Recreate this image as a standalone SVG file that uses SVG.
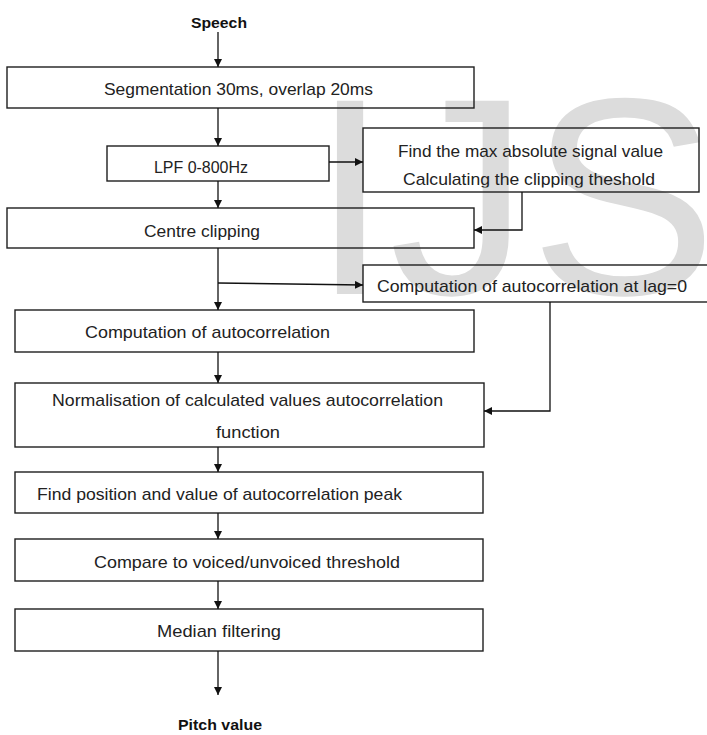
<svg xmlns="http://www.w3.org/2000/svg" width="707" height="735" viewBox="0 0 707 735">
<style>
.box{fill:none;stroke:#1e1e1e;stroke-width:1.4}
.t{font-family:"Liberation Sans",Arial,sans-serif;font-size:17px;fill:#222}
.b{font-family:"Liberation Sans",Arial,sans-serif;font-size:15.5px;font-weight:bold;fill:#111}
.c{fill:none;stroke:#111;stroke-width:1.3}
.wm{font-family:"Liberation Sans",Arial,sans-serif;font-size:281px;fill:#dcdcdc}
</style>
<defs>
<marker id="ah" markerUnits="userSpaceOnUse" markerWidth="9" markerHeight="9" refX="8" refY="4" orient="auto">
<path d="M0,0 L8,4 L0,8 z" fill="#111"/>
</marker>
<clipPath id="clipCalc"><rect x="363" y="128" width="336" height="59.5"/></clipPath>
</defs>
<rect width="707" height="735" fill="#fff"/>
<text class="wm" x="311" y="294">IJS</text>

<g id="speech"><text class="b" x="191" y="28" textLength="56" lengthAdjust="spacingAndGlyphs">Speech</text></g>
<g id="segmentation"><rect class="box" x="7" y="67" width="467" height="41"/><text class="t" x="104" y="95" textLength="269" lengthAdjust="spacingAndGlyphs">Segmentation 30ms, overlap 20ms</text></g>
<g id="lpf"><rect class="box" x="107" y="146" width="222" height="35"/><text class="t" x="154" y="173" textLength="94" lengthAdjust="spacingAndGlyphs">LPF 0-800Hz</text></g>
<g id="findmax"><rect class="box" x="363" y="128" width="336" height="64"/><text class="t" x="398" y="157" textLength="265" lengthAdjust="spacingAndGlyphs">Find the max absolute signal value</text><text class="t" x="403" y="185" textLength="252" lengthAdjust="spacingAndGlyphs" clip-path="url(#clipCalc)">Calculating the clipping theshold</text></g>
<g id="centre"><rect class="box" x="7" y="208" width="467" height="40"/><text class="t" x="144" y="237" textLength="116" lengthAdjust="spacingAndGlyphs">Centre clipping</text></g>
<g id="lag0"><rect class="box" x="363" y="265" width="350" height="37"/><text class="t" x="377" y="292" textLength="310" lengthAdjust="spacingAndGlyphs">Computation of autocorrelation at lag=0</text></g>
<g id="autocorr"><rect class="box" x="15" y="310" width="459" height="42"/><text class="t" x="85" y="338" textLength="245" lengthAdjust="spacingAndGlyphs">Computation of autocorrelation</text></g>
<g id="normalisation"><rect class="box" x="15" y="383" width="469" height="64"/><text class="t" x="52" y="406" textLength="391" lengthAdjust="spacingAndGlyphs">Normalisation of calculated values autocorrelation</text><text class="t" x="216" y="438" textLength="64" lengthAdjust="spacingAndGlyphs">function</text></g>
<g id="findpeak"><rect class="box" x="15" y="472" width="468" height="41"/><text class="t" x="37" y="500" textLength="365" lengthAdjust="spacingAndGlyphs">Find position and value of autocorrelation peak</text></g>
<g id="compare"><rect class="box" x="15" y="539" width="468" height="42"/><text class="t" x="94" y="568" textLength="306" lengthAdjust="spacingAndGlyphs">Compare to voiced/unvoiced threshold</text></g>
<g id="median"><rect class="box" x="15" y="609" width="468" height="42"/><text class="t" x="157" y="637" textLength="124" lengthAdjust="spacingAndGlyphs">Median filtering</text></g>
<g id="pitch"><text class="b" x="178" y="730" textLength="84" lengthAdjust="spacingAndGlyphs">Pitch value</text></g>

<g id="connectors">
<path class="c" d="M218,32 V67" marker-end="url(#ah)"/>
<path class="c" d="M218,108 V146" marker-end="url(#ah)"/>
<path class="c" d="M329,162 H363" marker-end="url(#ah)"/>
<path class="c" d="M218,181 V208" marker-end="url(#ah)"/>
<path class="c" d="M522,192 V230 H474" marker-end="url(#ah)"/>
<path class="c" d="M218,248 V310" marker-end="url(#ah)"/>
<path class="c" d="M218,283 L363,285" marker-end="url(#ah)"/>
<path class="c" d="M550,302 V411 H484" marker-end="url(#ah)"/>
<path class="c" d="M218,352 V383" marker-end="url(#ah)"/>
<path class="c" d="M218,447 V472" marker-end="url(#ah)"/>
<path class="c" d="M218,513 V539" marker-end="url(#ah)"/>
<path class="c" d="M218,581 V609" marker-end="url(#ah)"/>
<path class="c" d="M218,651 V695" marker-end="url(#ah)"/>
</g>
</svg>
